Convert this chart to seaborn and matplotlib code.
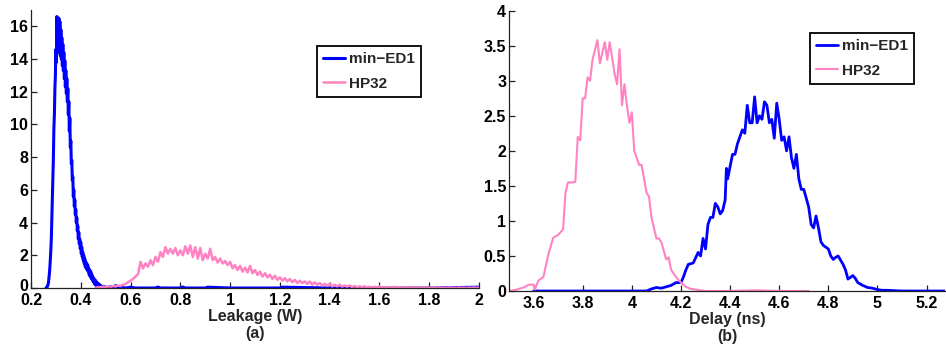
import numpy as np
import pandas as pd
import matplotlib
matplotlib.use("Agg")
import matplotlib.pyplot as plt
import matplotlib.transforms as mtransforms
import seaborn as sns

sns.set_style("white")
plt.rcParams["font.family"] = ["Liberation Sans", "DejaVu Sans"]
plt.rcParams["font.weight"] = "bold"
plt.rcParams["axes.labelweight"] = "bold"

# ---------------- data: panel (a) leakage ----------------
leak_blue_start, leak_blue_step = 0.260, 0.002
leak_blue_dense = [
    0, 0, 0.05, 0.1, 0.2, 0.3, 0.6, 0.9, 1.3, 1.8, 2.4, 3.2, 4.4, 5.6, 6.9, 8.0,
    9.8, 10.6, 12.2, 13.0, 14.6, 13.8, 16.6, 14.9, 16.4, 14.6, 16.5, 14.4, 16.3, 14.2,
    15.8, 14.0, 15.3, 13.6, 14.9, 13.3, 14.4, 12.8, 13.9, 12.3, 13.3, 11.9, 12.8, 11.4,
    12.2, 10.6, 11.4, 9.6, 10.4, 8.6, 9.0, 7.6, 7.8, 6.6, 6.8, 5.6, 6.0, 5.0, 5.4, 4.5,
    4.8, 4.0, 4.3, 3.5, 3.8, 3.0, 3.4, 2.7, 3.0, 2.4, 2.8, 2.1, 2.5, 1.9, 2.2, 1.7,
    2.0, 1.5, 1.8, 1.3, 1.6, 1.2, 1.5, 1.1, 1.4, 1.0, 1.2, 0.8, 1.1, 0.7, 1.0, 0.6,
    0.85, 0.5, 0.7, 0.4, 0.6, 0.3, 0.5, 0.2, 0.45, 0.15, 0.35, 0.1, 0.3, 0.05, 0.25,
    0.0, 0.2, 0.0, 0.15, 0.0, 0.1, 0.0, 0.1, 0.0, 0.1, 0.0, 0.05, 0.0, 0.05,
]
leak_blue_tail_x = [0.51, 0.52, 0.53, 0.54, 0.55, 0.56, 0.58, 0.60, 0.62, 0.65, 0.70,
                    0.71, 0.72, 0.80, 0.81, 0.82, 0.90, 0.91, 1.00, 1.20, 1.21, 1.40,
                    1.60, 1.80, 2.00]
leak_blue_tail_y = [0.02, 0.1, 0.0, 0.15, 0.0, 0.05, 0.0, 0.05, 0.0, 0.0, 0.0,
                    0.06, 0.0, 0.0, 0.06, 0.0, 0.0, 0.05, 0.0, 0.0, 0.05, 0.0,
                    0.0, 0.0, 0.05]

leak_pink_start, leak_pink_step = 0.46, 0.01
leak_pink = [
    0.02, 0.05, 0.05, 0.08, 0.05, 0.1, 0.08, 0.12, 0.1, 0.15, 0.12, 0.2, 0.25, 0.35,
    0.45, 0.55, 0.7, 0.85, 1.6, 1.2, 1.5, 1.3, 1.7, 1.4, 1.9, 1.6, 2.2, 1.9, 2.5, 2.1,
    2.4, 2.1, 2.45, 2.0, 2.3, 2.0, 2.55, 2.1, 2.6, 1.9, 2.5, 1.8, 2.45, 1.7, 2.1, 1.8,
    2.4, 1.7, 1.9, 1.55, 1.8, 1.5, 1.65, 1.4, 1.6, 1.2, 1.4, 1.1, 1.35, 1.0, 1.25, 0.95,
    1.35, 0.9, 1.1, 0.8, 1.0, 0.7, 0.9, 0.65, 0.8, 0.55, 0.75, 0.5, 0.65, 0.45, 0.6,
    0.4, 0.55, 0.35, 0.5, 0.3, 0.45, 0.3, 0.4, 0.25, 0.4, 0.2, 0.35, 0.2, 0.3, 0.15,
    0.25, 0.15, 0.25, 0.1, 0.2, 0.1, 0.2, 0.08, 0.15, 0.08, 0.15, 0.05, 0.12, 0.05,
    0.1, 0.05, 0.1, 0.03, 0.08, 0.03, 0.08, 0.02, 0.1, 0.02, 0.06, 0.02, 0.05, 0.02,
    0.08, 0.01, 0.05, 0.01, 0.06, 0.01, 0.04, 0.01, 0.03, 0.01, 0.04, 0.01, 0.03, 0.0,
    0.03, 0.01, 0.04, 0.0, 0.03, 0.01, 0.02, 0.0, 0.03, 0.01, 0.02, 0.0, 0.03, 0.01,
    0.02, 0.0, 0.02, 0.01, 0.03, 0.01, 0.02,
]

# ---------------- data: panel (b) delay ----------------
delay_pink_x = [3.50, 3.53, 3.56, 3.58, 3.60, 3.605, 3.62, 3.64, 3.66, 3.68, 3.70, 3.72,
                3.73, 3.74, 3.76, 3.77, 3.78, 3.79, 3.80, 3.81, 3.82, 3.83, 3.84, 3.86,
                3.87, 3.89, 3.90, 3.91, 3.93, 3.94, 3.95, 3.96, 3.97, 3.98, 3.99, 4.00,
                4.01, 4.03, 4.04, 4.06, 4.07, 4.08, 4.10, 4.11, 4.12, 4.14, 4.15, 4.16,
                4.18, 4.20, 4.22, 4.24, 4.26, 4.28, 4.30, 4.40, 4.50, 4.60, 4.72]
delay_pink_y = [0.0, 0.02, 0.05, 0.09, 0.09, 0.02, 0.15, 0.2, 0.52, 0.76, 0.8, 0.88,
                1.4, 1.55, 1.55, 1.56, 2.2, 2.15, 2.75, 2.75, 3.05, 3.0, 3.3, 3.58,
                3.25, 3.55, 3.3, 3.55, 3.1, 2.95, 3.45, 2.65, 2.95, 2.65, 2.4, 2.55,
                2.0, 1.8, 1.8, 1.4, 1.35, 1.05, 0.75, 0.75, 0.7, 0.45, 0.48, 0.3,
                0.2, 0.12, 0.06, 0.03, 0.02, 0.01, 0.0, 0.0, 0.01, 0.0, 0.0]

delay_blue_x = [3.60, 3.70, 3.80, 3.90, 4.00, 4.06, 4.08, 4.10, 4.12, 4.14, 4.16, 4.18,
                4.20, 4.21, 4.22, 4.23, 4.25, 4.27, 4.28, 4.29, 4.30, 4.31, 4.32, 4.33,
                4.34, 4.35, 4.36, 4.37, 4.38, 4.385, 4.39, 4.41, 4.42, 4.43, 4.45, 4.46,
                4.47, 4.48, 4.49, 4.50, 4.51, 4.52, 4.53, 4.54, 4.55, 4.56, 4.57, 4.58,
                4.59, 4.60, 4.61, 4.62, 4.63, 4.64, 4.65, 4.66, 4.67, 4.68, 4.69, 4.70,
                4.72, 4.73, 4.74, 4.75, 4.76, 4.77, 4.78, 4.80, 4.81, 4.82, 4.83, 4.84,
                4.86, 4.87, 4.88, 4.90, 4.91, 4.92, 4.93, 4.94, 4.96, 4.98, 5.00, 5.02,
                5.04, 5.10, 5.20, 5.28]
delay_blue_y = [0.0, 0.0, 0.0, 0.0, 0.0, 0.0, 0.03, 0.05, 0.04, 0.06, 0.08, 0.12,
                0.12, 0.2, 0.3, 0.38, 0.4, 0.55, 0.5, 0.75, 0.6, 0.95, 1.05, 1.05,
                1.25, 1.2, 1.1, 1.15, 1.3, 1.75, 1.6, 1.95, 1.95, 2.1, 2.3, 2.25,
                2.65, 2.4, 2.4, 2.77, 2.4, 2.5, 2.45, 2.7, 2.65, 2.4, 2.45, 2.18,
                2.68, 2.45, 2.15, 2.2, 2.0, 2.2, 1.9, 1.75, 1.95, 1.6, 1.45, 1.45,
                1.2, 0.95, 0.9, 1.07, 0.9, 0.7, 0.65, 0.6, 0.5, 0.45, 0.48, 0.5,
                0.38, 0.3, 0.17, 0.22, 0.18, 0.12, 0.1, 0.08, 0.05, 0.04, 0.02, 0.01,
                0.01, 0.0, 0.0, 0.0]

series_names = ["min\u2212ED1", "HP32"]
blue, pink = "#0000ff", "#ff82c3"

leak_x_ticks = [0.2, 0.4, 0.6, 0.8, 1.0, 1.2, 1.4, 1.6, 1.8, 2.0]
leak_x_labels = ["0.2", "0.4", "0.6", "0.8", "1", "1.2", "1.4", "1.6", "1.8", "2"]
leak_y_ticks = [0, 2, 4, 6, 8, 10, 12, 14, 16]
delay_x_ticks = [3.6, 3.8, 4.0, 4.2, 4.4, 4.6, 4.8, 5.0, 5.2]
delay_x_labels = ["3.6", "3.8", "4", "4.2", "4.4", "4.6", "4.8", "5", "5.2"]
delay_y_ticks = [0, 0.5, 1, 1.5, 2, 2.5, 3, 3.5, 4]
delay_y_labels = ["0", "0.5", "1", "1.5", "2", "2.5", "3", "3.5", "4"]

# build tables
bx = np.round(leak_blue_start + leak_blue_step * np.arange(len(leak_blue_dense)), 4)
leak_blue_df = pd.DataFrame({"x": np.concatenate([bx, leak_blue_tail_x]),
                             "y": leak_blue_dense + leak_blue_tail_y})
px = np.round(leak_pink_start + leak_pink_step * np.arange(len(leak_pink)), 4)
leak_pink_df = pd.DataFrame({"x": px, "y": leak_pink})

W, H = 946, 347
fig = plt.figure(figsize=(W / 100, H / 100), dpi=100)
axA = fig.add_axes([31 / W, 1 - 288 / H, 448 / W, 278 / H])
axB = fig.add_axes([509 / W, 1 - 291 / H, 436 / W, 280.3 / H])

sns.lineplot(data=leak_blue_df, x="x", y="y", ax=axA, color=blue, lw=2.2,
             estimator=None, sort=False, label=series_names[0])
sns.lineplot(data=leak_pink_df, x="x", y="y", ax=axA, color=pink, lw=1.8,
             estimator=None, sort=False, label=series_names[1])
sns.lineplot(x=delay_blue_x, y=delay_blue_y, ax=axB, color=blue, lw=2.0,
             estimator=None, sort=False, label=series_names[0])
sns.lineplot(x=delay_pink_x, y=delay_pink_y, ax=axB, color=pink, lw=1.5,
             estimator=None, sort=False, label=series_names[1])

axA.set_xlim(0.2, 2.0)
axA.set_ylim(0, 17)
axB.set_xlim(3.5, 5.275)
axB.set_ylim(0, 4)

axA.set_xticks(leak_x_ticks, leak_x_labels)
axA.set_yticks(leak_y_ticks, [str(v) for v in leak_y_ticks])
axB.set_xticks(delay_x_ticks, delay_x_labels)
axB.set_yticks(delay_y_ticks, delay_y_labels)

for ax, lab in [(axA, "Leakage (W)\n(a)"), (axB, "Delay (ns)\n(b)")]:
    for s in ["top", "right"]:
        ax.spines[s].set_visible(False)
    for s in ["left", "bottom"]:
        ax.spines[s].set_color("#222222")
        ax.spines[s].set_linewidth(0.9)
    ax.tick_params(direction="in", length=4.5, width=0.9, labelsize=11.5,
                   colors="#222222", left=True, bottom=True)
    ax.tick_params(axis="y", pad=2)
    ax.tick_params(axis="x", pad=3.5)
    for t in ax.get_xticklabels() + ax.get_yticklabels():
        t.set_fontweight("bold")
        t.set_color("black")
    ax.set_xlabel(lab, fontsize=11.5, fontweight="bold", labelpad=1.0, linespacing=1.15)
    ax.set_ylabel("")
    ax.patch.set_alpha(0)

# nudge the y "0" label of panel (a) slightly up so it does not touch "0.2"
lbl0 = axA.get_yticklabels()[0]
lbl0.set_transform(lbl0.get_transform() +
                   mtransforms.ScaledTranslation(0, 3 / 100, fig.dpi_scale_trans))

legA = axA.legend(loc="upper left", bbox_to_anchor=(317 / W, 1 - 46 / H),
                  bbox_transform=fig.transFigure, fancybox=False, framealpha=1,
                  edgecolor="black", fontsize=11, handlelength=1.4, handletextpad=0.3,
                  labelspacing=0.7, borderpad=0.4, borderaxespad=0)
legB = axB.legend(loc="upper left", bbox_to_anchor=(810 / W, 1 - 33 / H),
                  bbox_transform=fig.transFigure, fancybox=False, framealpha=1,
                  edgecolor="black", fontsize=11, handlelength=1.4, handletextpad=0.3,
                  labelspacing=0.7, borderpad=0.4, borderaxespad=0)
for leg in (legA, legB):
    leg.get_frame().set_linewidth(1.3)
    for t in leg.get_texts():
        t.set_fontweight("bold")

fig.savefig("out.png", dpi=100)
